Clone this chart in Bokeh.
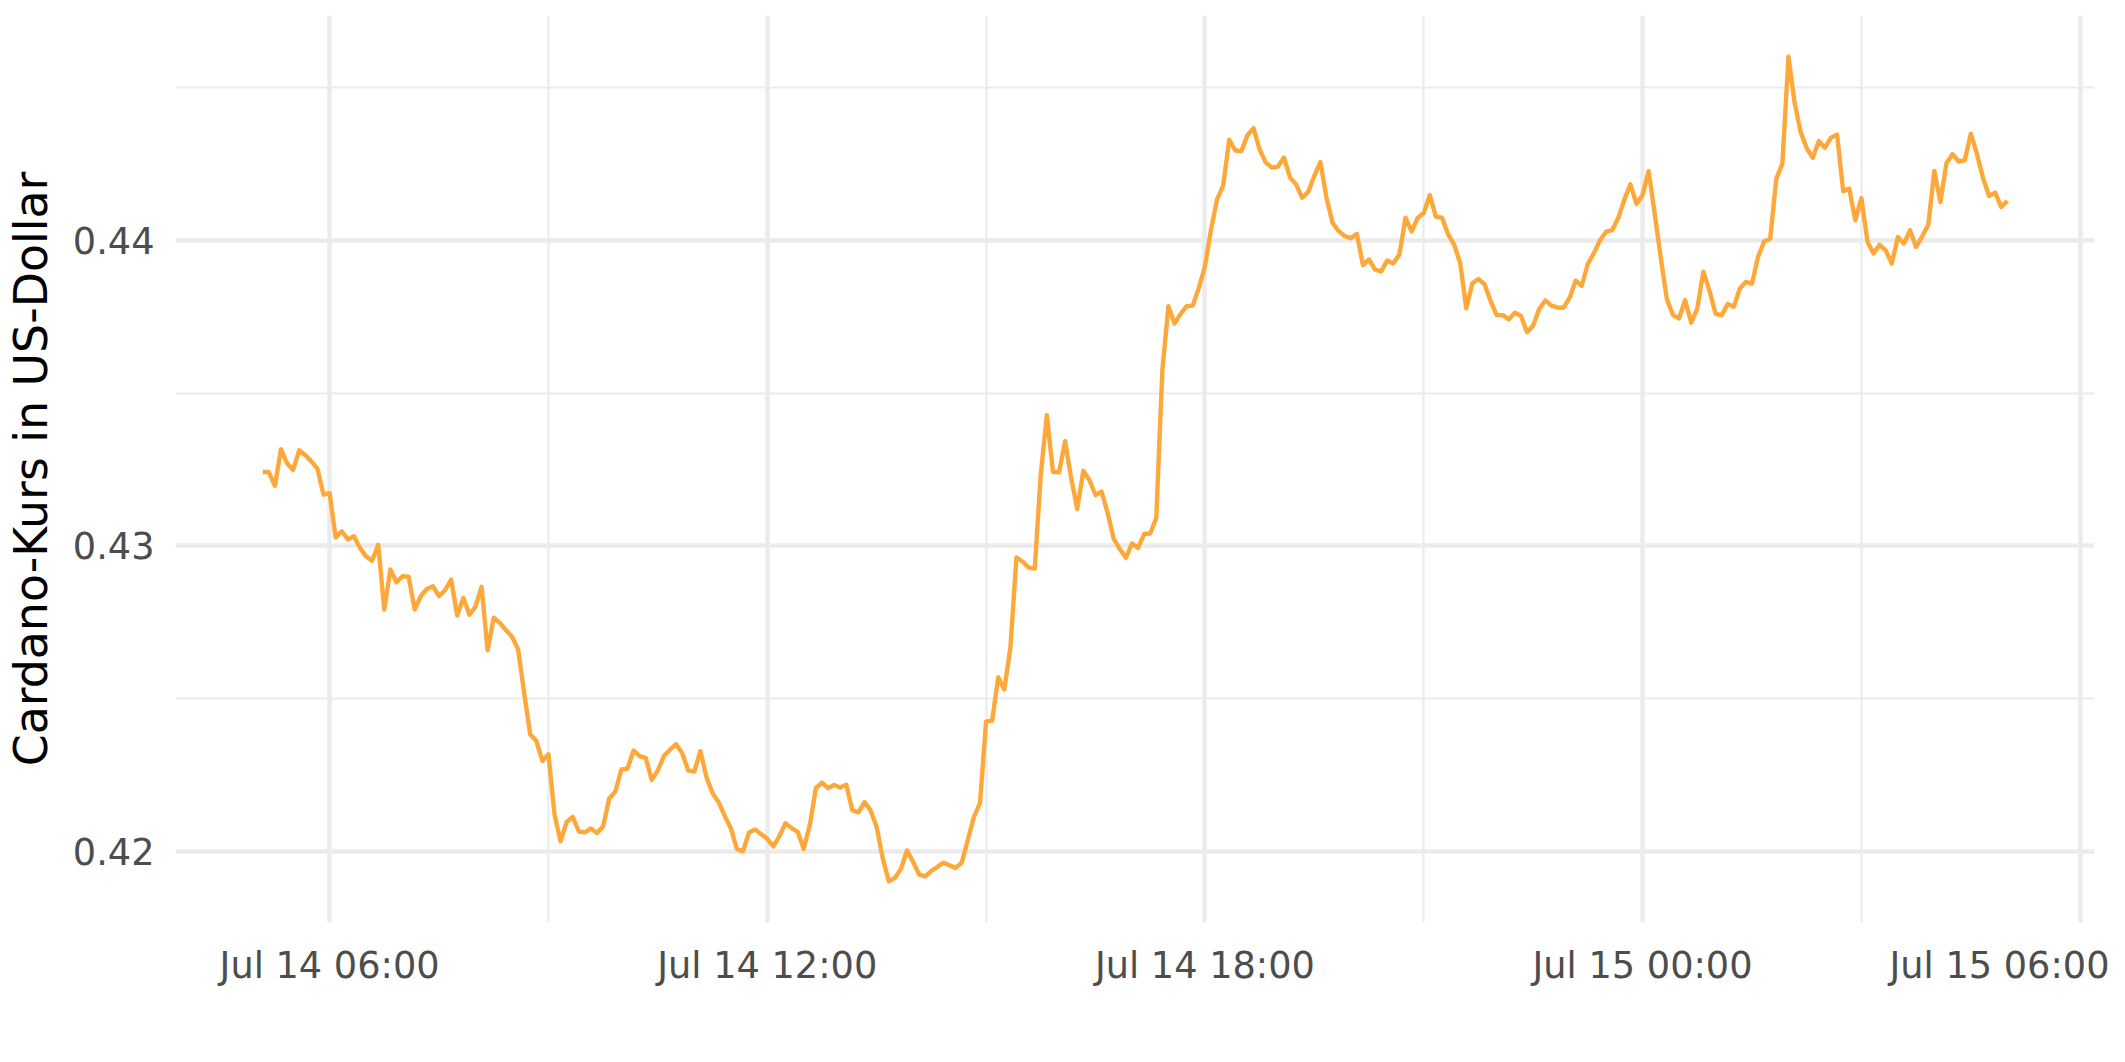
import pandas as pd
from bokeh.plotting import figure
from bokeh.models import Range1d, FixedTicker, DatetimeTickFormatter, ColumnDataSource
from bokeh.embed import file_html
from bokeh.resources import INLINE

# ---------------- data ----------------
series_start = "2022-07-14 05:05"
series_step = "5min"
price = [
    0.43242, 0.43242, 0.43197, 0.43317, 0.43271, 0.43249, 0.43313, 0.43298, 0.43277, 0.43253,
    0.43168, 0.43173, 0.43028, 0.43048, 0.43021, 0.43032, 0.42993, 0.42966, 0.42952, 0.43004,
    0.42792, 0.42923, 0.42881,
    0.42901, 0.42899, 0.42792, 0.42836, 0.42859, 0.42868, 0.42836, 0.42855, 0.42890, 0.42772,
    0.42830, 0.42775, 0.42801, 0.42866, 0.42658, 0.42765, 0.42748, 0.42725, 0.42703, 0.42663,
    0.42520, 0.42383, 0.42362, 0.42296, 0.42318, 0.42121, 0.42033, 0.42096, 0.42113, 0.42065,
    0.42062, 0.42075, 0.42060, 0.42082, 0.42173, 0.42195, 0.42268, 0.42270, 0.42330, 0.42312,
    0.42306, 0.42234, 0.42265, 0.42312, 0.42333, 0.42351, 0.42322, 0.42265, 0.42261, 0.42328,
    0.42243, 0.42190, 0.42161, 0.42116, 0.42076, 0.42008, 0.42000, 0.42062, 0.42072, 0.42056,
    0.42041, 0.42016, 0.42050, 0.42092, 0.42076, 0.42064, 0.42008, 0.42086, 0.42207, 0.42225,
    0.42207, 0.42217, 0.42209, 0.42218, 0.42134, 0.42128, 0.42161, 0.42134, 0.42080, 0.41977,
    0.41902, 0.41913, 0.41943, 0.42003, 0.41965, 0.41924, 0.41918, 0.41936, 0.41949, 0.41963,
    0.41954, 0.41946, 0.41963, 0.42038, 0.42113, 0.42158, 0.42425, 0.42428, 0.42570, 0.42530,
    0.42667, 0.42962, 0.42949, 0.42929, 0.42926, 0.43235, 0.43428, 0.43243, 0.43241, 0.43343,
    0.43222, 0.43121, 0.43246, 0.43216, 0.43167, 0.43178, 0.43108, 0.43023, 0.42990, 0.42961,
    0.43008, 0.42993, 0.43039, 0.43041,
    0.43092, 0.43576, 0.43785, 0.43728, 0.43760, 0.43785, 0.43787, 0.43845, 0.43915, 0.44035,
    0.44135, 0.44180, 0.44330, 0.44295, 0.44293, 0.44345, 0.44368, 0.44298, 0.44256, 0.44239,
    0.44242, 0.44272, 0.44207, 0.44184, 0.44140, 0.44160, 0.44212, 0.44257, 0.44140, 0.44058,
    0.44031, 0.44015, 0.44008, 0.44022, 0.43920, 0.43938, 0.43905, 0.43899, 0.43935, 0.43925,
    0.43955, 0.44075, 0.44030, 0.44074, 0.44090, 0.44149, 0.44078, 0.44075, 0.44021, 0.43987,
    0.43926, 0.43778, 0.43860, 0.43874, 0.43857, 0.43802, 0.43756, 0.43756, 0.43742, 0.43764,
    0.43753, 0.43700, 0.43722, 0.43776, 0.43804, 0.43787, 0.43781, 0.43780, 0.43813, 0.43869,
    0.43852, 0.43924, 0.43959, 0.44001, 0.44029, 0.44034, 0.44074, 0.44134, 0.44184, 0.44120,
    0.44149, 0.44228, 0.44088, 0.43943, 0.43808, 0.43756, 0.43745, 0.43805, 0.43731, 0.43777,
    0.43898, 0.43836, 0.43761, 0.43755, 0.43792, 0.43783, 0.43843, 0.43865, 0.43859, 0.43947,
    0.43997, 0.44007, 0.44202, 0.44252, 0.44602, 0.44453, 0.44356, 0.44303, 0.44271, 0.44326,
    0.44304, 0.44337, 0.44347, 0.44162, 0.44170, 0.44066, 0.44139, 0.43996, 0.43958, 0.43986,
    0.43968, 0.43925, 0.44012, 0.43990, 0.44034, 0.43979, 0.44014, 0.44051, 0.44228, 0.44126,
    0.44254, 0.44283, 0.44259, 0.44263, 0.44350, 0.44284, 0.44206, 0.44146, 0.44157, 0.44110,
    0.44130,
]
x_tick_times = ["2022-07-14 06:00", "2022-07-14 12:00", "2022-07-14 18:00",
                "2022-07-15 00:00", "2022-07-15 06:00"]
x_minor_times = ["2022-07-14 09:00", "2022-07-14 15:00", "2022-07-14 21:00",
                 "2022-07-15 03:00"]
y_ticks = [0.42, 0.43, 0.44]
y_minor = [0.425, 0.435, 0.445]
y_title = "Cardano-Kurs in US-Dollar"
# --------------------------------------

times = pd.date_range(series_start, periods=len(price), freq=series_step)
src = ColumnDataSource(dict(time=times, price=price))


def ms(t):
    return pd.Timestamp(t).value / 1e6


t0, t1 = ms(times[0]), ms(times[-1])
xpad = 0.05 * (t1 - t0)
ymin, ymax = min(price), max(price)
ypad = 0.05 * (ymax - ymin)

FONT = "DejaVu Sans"
GRID = "#EBEBEB"

p = figure(
    frame_width=1919, frame_height=907,
    min_border_left=175, min_border_right=15, min_border_top=15, min_border_bottom=124,
    x_axis_type="datetime",
    x_range=Range1d(t0 - xpad, t1 + xpad),
    y_range=Range1d(ymin - ypad, ymax + ypad),
    output_backend="svg", toolbar_location=None,
)
p.background_fill_color = "white"
p.border_fill_color = "white"
p.outline_line_color = None

p.xaxis.ticker = FixedTicker(ticks=[ms(t) for t in x_tick_times],
                             minor_ticks=[ms(t) for t in x_minor_times])
fmt = "%b %d %H:%M"
p.xaxis.formatter = DatetimeTickFormatter(
    minutes=fmt, hourmin=fmt, hours=fmt, days=fmt, months=fmt, years=fmt)
p.yaxis.ticker = FixedTicker(ticks=y_ticks, minor_ticks=y_minor)

for ax in (p.xaxis, p.yaxis):
    ax.axis_line_color = None
    ax.major_tick_line_color = None
    ax.minor_tick_line_color = None
    ax.major_tick_out = 0
    ax.major_tick_in = 0
    ax.minor_tick_out = 0
    ax.minor_tick_in = 0
    ax.major_label_text_font = FONT
    ax.major_label_text_font_size = "36.7px"
    ax.major_label_text_color = "#4D4D4D"
    ax.major_label_standoff = 21

p.yaxis.axis_label = y_title
p.yaxis.axis_label_text_font = FONT
p.yaxis.axis_label_text_font_size = "45.8px"
p.yaxis.axis_label_text_font_style = "normal"
p.yaxis.axis_label_text_color = "black"
p.yaxis.axis_label_standoff = 12

for g in (p.xgrid, p.ygrid):
    g.grid_line_color = GRID
    g.grid_line_width = 4.4
    g.minor_grid_line_color = GRID
    g.minor_grid_line_width = 2.2

p.line(x="time", y="price", source=src, line_color="#FFA83A", line_width=4.4,
       line_join="round")

open("out.html", "w").write(file_html(p, INLINE))
